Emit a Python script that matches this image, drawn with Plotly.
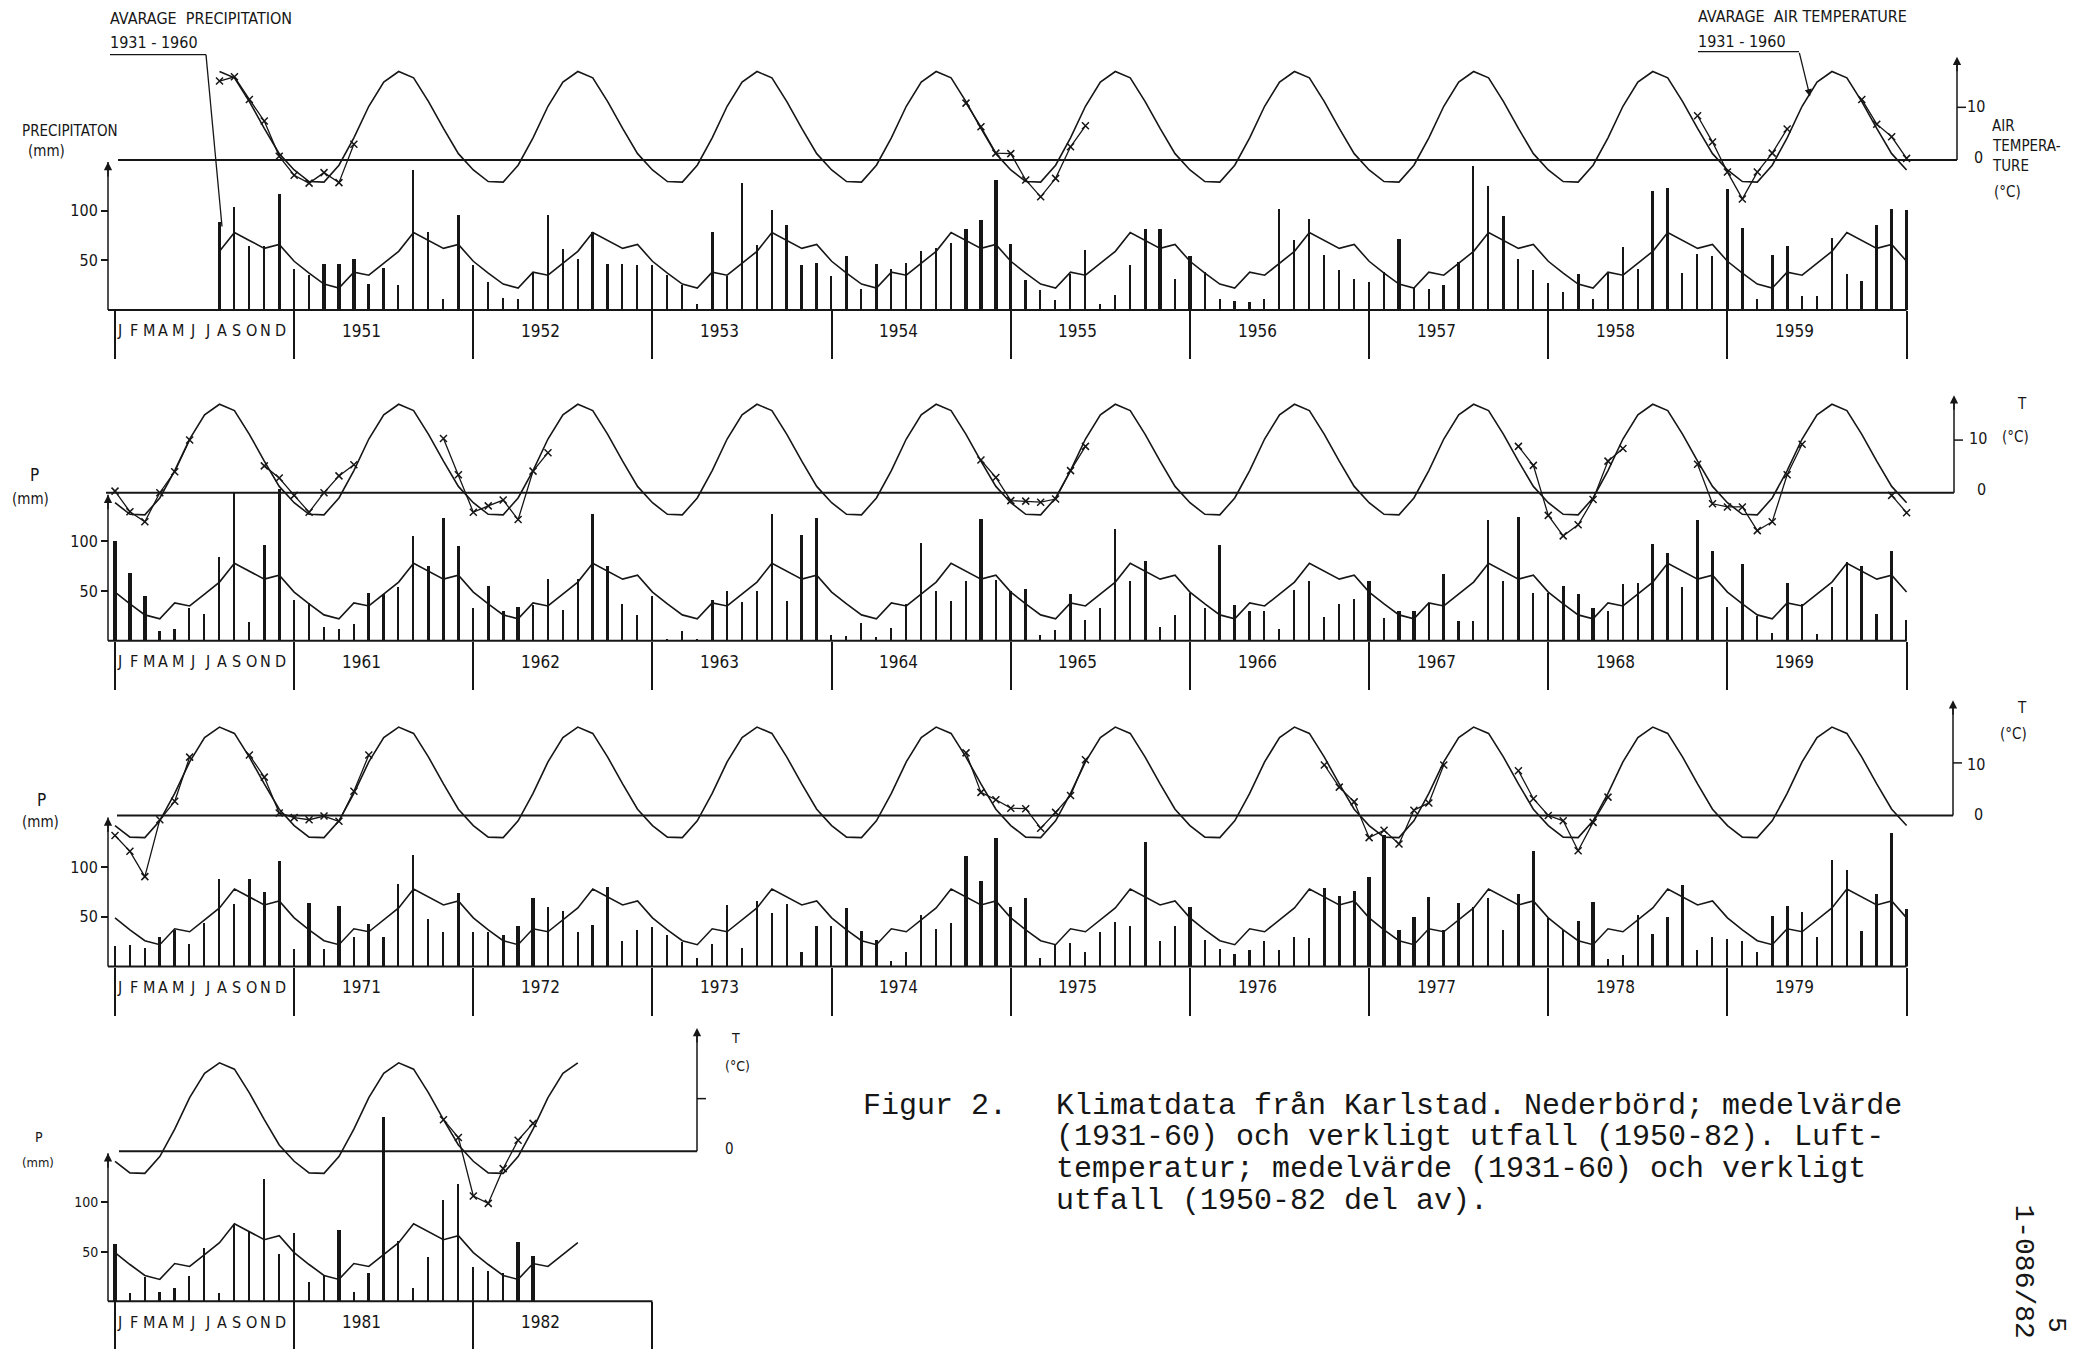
import plotly.graph_objects as go

W, H = 2086, 1357
N = None

MONTH_LETTERS = ["J", "F", "M", "A", "M", "J", "J", "A", "S", "O", "N", "D"]

# 1931-60 normals, Jan..Dec
P_NORMAL = [37, 26, 22, 38, 35, 47, 59, 78, 70, 62, 66, 49]
T_NORMAL = [-4.1, -4.2, -1.0, 4.2, 10.2, 14.8, 16.8, 15.6, 11.1, 6.0, 1.2, -1.9]

# monthly precipitation (mm), Jan..Dec
p1950 = [N, N, N, N, N, N, 88, 103, 64, 64, 116, 41]
p1951 = [35, 46, 46, 51, 26, 42, 25, 141, 78, 11, 95, 45]
p1952 = [28, 12, 11, 38, 95, 61, 51, 78, 46, 46, 45, 45]
p1953 = [35, 25, 6, 78, 34, 128, 65, 100, 85, 45, 47, 34]
p1954 = [54, 21, 46, 41, 47, 59, 62, 67, 81, 90, 131, 66]
p1955 = [30, 20, 10, 36, 60, 6, 15, 45, 81, 81, 31, 54]
p1956 = [38, 11, 9, 8, 11, 101, 70, 91, 55, 40, 31, 28]
p1957 = [38, 71, 22, 21, 25, 48, 145, 125, 94, 51, 40, 27]
p1958 = [18, 36, 11, 38, 63, 41, 119, 122, 37, 56, 54, 121]
p1959 = [82, 11, 55, 64, 14, 14, 72, 36, 29, 85, 101, 100]
p1960 = [68, 45, 10, 12, 33, 27, 84, 150, 19, 96, 153, 41]
p1961 = [38, 14, 12, 17, 48, 47, 54, 105, 75, 123, 95, 33]
p1962 = [55, 30, 34, 36, 62, 31, 62, 128, 75, 37, 26, 45]
p1963 = [2, 10, 2, 41, 50, 39, 50, 128, 40, 106, 123, 6]
p1964 = [5, 18, 4, 13, 37, 98, 50, 40, 60, 122, 61, 50]
p1965 = [52, 6, 11, 47, 21, 33, 112, 60, 80, 14, 26, 48]
p1966 = [33, 96, 36, 30, 30, 12, 51, 60, 24, 37, 42, 60]
p1967 = [23, 30, 30, 38, 67, 20, 20, 121, 60, 125, 48, 48]
p1968 = [55, 47, 33, 30, 57, 58, 97, 88, 54, 121, 90, 34]
p1969 = [77, 25, 8, 58, 37, 7, 54, 79, 75, 27, 90, 21]
p1970 = [22, 19, 30, 37, 23, 44, 88, 63, 88, 75, 106, 18]
p1971 = [64, 18, 61, 30, 43, 30, 83, 112, 48, 35, 74, 35]
p1972 = [35, 32, 41, 69, 60, 56, 35, 42, 80, 26, 37, 40]
p1973 = [32, 25, 9, 23, 62, 19, 66, 54, 63, 15, 41, 41]
p1974 = [59, 36, 27, 6, 15, 52, 38, 44, 111, 86, 130, 60]
p1975 = [69, 9, 22, 24, 15, 35, 45, 41, 126, 26, 41, 60]
p1976 = [27, 18, 13, 17, 26, 17, 30, 29, 79, 71, 76, 90]
p1977 = [133, 37, 50, 70, 37, 64, 60, 69, 37, 73, 116, 49]
p1978 = [37, 46, 65, 8, 12, 52, 33, 50, 82, 17, 30, 28]
p1979 = [26, 15, 51, 61, 55, 30, 107, 97, 36, 73, 135, 58]
p1980 = [9, 25, 10, 14, 26, 54, 9, 78, 71, 123, 48, 69]
p1981 = [20, 27, 72, 10, 29, 186, 61, 14, 45, 102, 118, 35]
p1982 = [31, 29, 60, 46, N, N, N, N, N, N, N, N]

# months whose precipitation bar is drawn heavy in the original
MARKED = [
    "1950-07", "1950-11", "1951-02", "1951-03", "1951-04", "1951-11",
    "1953-04", "1953-09", "1954-01", "1954-03", "1954-09", "1954-10", "1954-11", "1954-12",
    "1955-09", "1955-10", "1955-12", "1957-02", "1957-09", "1958-02", "1958-12",
    "1959-01", "1959-03", "1959-04", "1959-10", "1959-11", "1959-12",
    "1960-01", "1960-02", "1960-10", "1960-11", "1961-09", "1961-10", "1961-11",
    "1962-01", "1962-02", "1962-03", "1962-09", "1963-04", "1963-10", "1963-11",
    "1964-10", "1965-01", "1965-04", "1965-09", "1966-02", "1966-12",
    "1967-02", "1967-03", "1967-10", "1968-01", "1968-02", "1968-03", "1968-10", "1968-11",
    "1969-01", "1969-04", "1969-09", "1969-11",
    "1970-09", "1970-10", "1970-11", "1971-01", "1971-03", "1971-11",
    "1972-02", "1972-03", "1972-04", "1972-09", "1974-01", "1974-02", "1974-03",
    "1974-09", "1974-10", "1974-11", "1974-12", "1975-01", "1975-09", "1975-12",
    "1976-09", "1976-10", "1976-11", "1976-12", "1977-01", "1977-02", "1977-03", "1977-04",
    "1977-10", "1977-11", "1978-02", "1978-03", "1978-09",
    "1979-03", "1979-04", "1979-10", "1979-11", "1979-12",
    "1981-03", "1982-03", "1982-04",
]

# observed monthly air temperature (degC), only the plotted periods
t1950 = [N, N, N, N, N, N, 15.0, 15.8, 11.5, 7.4, 0.7, -2.9]
t1951 = [-4.4, -2.4, -4.3, 3.0, N, N, N, N, N, N, N, N]
t1954 = [N, N, N, N, N, N, N, N, 10.8, 6.3, 1.3, 1.2]
t1955 = [-3.8, -7.0, -3.5, 2.5, 6.5, N, N, N, N, N, N, N]
t1958 = [N, N, N, N, N, N, N, N, N, 8.4, 3.4, -2.3]
t1959 = [-7.4, -2.3, 1.3, 5.9, N, N, N, N, 11.5, 6.8, 4.4, 0.3]
t1960 = [-3.6, -5.5, 0.0, 4.0, 10.0, N, N, N, N, 5.1, 2.8, -0.5]
t1961 = [-3.7, 0.0, 3.2, 5.3, N, N, N, N, N, 10.3, 3.4, -3.7]
t1962 = [-2.5, -1.4, -5.1, 4.1, 7.6, N, N, N, N, N, N, N]
t1964 = [N, N, N, N, N, N, N, N, N, 6.2, 2.9, -1.5]
t1965 = [-1.6, -1.8, -1.2, 4.2, 8.8, N, N, N, N, N, N, N]
t1967 = [N, N, N, N, N, N, N, N, N, 8.8, 5.2, -4.3]
t1968 = [-8.2, -6.1, -1.3, 6.0, 8.4, N, N, N, N, 5.4, -2.1, -2.7]
t1969 = [-2.7, -7.2, -5.5, 3.4, 9.2, N, N, N, N, N, -0.5, -3.8]
t1970 = [-6.8, -11.6, -0.8, 2.7, 11.1, N, N, N, 11.5, 7.3, 0.5, -0.4]
t1971 = [-0.8, -0.1, -1.1, 4.6, 11.5, N, N, N, N, N, N, N]
t1974 = [N, N, N, N, N, N, N, N, 11.9, 4.4, 3.0, 1.4]
t1975 = [1.3, -2.4, 0.6, 3.8, 10.6, N, N, N, N, N, N, N]
t1976 = [N, N, N, N, N, N, N, N, 9.6, 5.4, 2.6, -4.2]
t1977 = [-2.8, -5.4, 1.0, 2.4, 9.6, N, N, N, N, 8.5, 3.2, 0.0]
t1978 = [-1.0, -6.7, -1.3, 3.5, N, N, N, N, N, N, N, N]
t1981 = [N, N, N, N, N, N, N, N, N, 6.0, 2.6, -8.5]
t1982 = [-9.9, -3.3, 2.1, 5.3, N, N, N, N, N, N, N, N]

PRECIP = {1950: p1950, 1951: p1951, 1952: p1952, 1953: p1953, 1954: p1954,
          1955: p1955, 1956: p1956, 1957: p1957, 1958: p1958, 1959: p1959,
          1960: p1960, 1961: p1961, 1962: p1962, 1963: p1963, 1964: p1964,
          1965: p1965, 1966: p1966, 1967: p1967, 1968: p1968, 1969: p1969,
          1970: p1970, 1971: p1971, 1972: p1972, 1973: p1973, 1974: p1974,
          1975: p1975, 1976: p1976, 1977: p1977, 1978: p1978, 1979: p1979,
          1980: p1980, 1981: p1981, 1982: p1982}
TEMP = {1950: t1950, 1951: t1951, 1954: t1954, 1955: t1955, 1958: t1958,
        1959: t1959, 1960: t1960, 1961: t1961, 1962: t1962, 1964: t1964,
        1965: t1965, 1967: t1967, 1968: t1968, 1969: t1969, 1970: t1970,
        1971: t1971, 1974: t1974, 1975: t1975, 1976: t1976, 1977: t1977,
        1978: t1978, 1981: t1981, 1982: t1982}

# panel rows: first year, number of years, span of the normal curves (year, month)
ROW_FIRST_YEAR = [1950, 1960, 1970, 1980]
ROW_N_YEARS = [10, 10, 10, 3]
NORMAL_START = [(1950, 7), (1959, 12), (1969, 12), (1979, 12)]
NORMAL_END = [(1959, 12), (1969, 12), (1979, 12), (1982, 7)]

CAPTION = [
    "Klimatdata från Karlstad. Nederbörd; medelvärde",
    "(1931-60) och verkligt utfall (1950-82). Luft-",
    "temperatur; medelvärde (1931-60) och verkligt",
    "utfall (1950-82 del av).",
]

# ---------------- layout geometry (screen pixels) ----------------
OFF = 8                       # default page margin around the plot div
FW, FH = W - 2 * OFF, H - 2 * OFF
X0, DX = 115.0, 14.93
PMM, PDEG = 1.0, 5.3
ROW_P0 = [312, 645, 973, 1310]
ROW_T0 = [161, 496, 821, 1159]
ROW_TAX = [1957, 1954, 1953, 697]
ROW_TTOP = [19.6, 18.5, 21.9, 23.4]
ROW_ZSTART = [118, 106, 117, 119]
PAX = 108

INK = "#161616"
LBL = "Liberation Sans Narrow, DejaVu Sans Condensed, Roboto, Arial, sans-serif"
MONO = "Liberation Mono, DejaVu Sans Mono, monospace"


def fx(px):
    return (px - OFF) / FW


def fy(py):
    return 1 - (py - OFF) / FH


def xi(px):
    return (px - X0) / DX


fig = go.Figure()
layout = {}
shapes = []
annotations = []


def line(x0, y0, x1, y1, w=1.5):
    shapes.append(dict(type="line", xref="paper", yref="paper",
                       x0=fx(x0), y0=fy(y0), x1=fx(x1), y1=fy(y1),
                       line=dict(color=INK, width=w)))


def text(t, x, y, size=16, anchor="center", family=LBL, angle=0):
    annotations.append(dict(text=t, x=fx(x), y=fy(y), xref="paper", yref="paper",
                            showarrow=False, xanchor=anchor, yanchor="middle",
                            textangle=angle, font=dict(family=family, size=size, color=INK)))


def arrow_up(x, y, length=18):
    annotations.append(dict(text="", x=fx(x), y=fy(y), xref="paper", yref="paper",
                            showarrow=True, arrowhead=2, arrowsize=1.1, arrowwidth=1.5,
                            arrowcolor=INK, ax=0, ay=length, standoff=0))


for r in range(4):
    y0 = ROW_FIRST_YEAR[r]
    n = ROW_N_YEARS[r]
    p0, t0 = ROW_P0[r], ROW_T0[r]
    xname = "xaxis" if r == 0 else f"xaxis{r + 1}"
    xref = "x" if r == 0 else f"x{r + 1}"
    kp, kt = 2 * r + 1, 2 * r + 2
    ypname = "yaxis" if kp == 1 else f"yaxis{kp}"
    ypref = "y" if kp == 1 else f"y{kp}"
    ytname, ytref = f"yaxis{kt}", f"y{kt}"

    layout[xname] = dict(domain=[0, 1], range=[xi(OFF), xi(W - OFF)], anchor=ypref,
                         showgrid=False, zeroline=False, showline=False,
                         ticks="outside", tickmode="array",
                         tickvals=[12 * k for k in range(n + 1)],
                         ticklen=48, tickwidth=1.5, tickcolor=INK,
                         showticklabels=False, fixedrange=True)
    layout[ypname] = dict(domain=[fy(p0), fy(p0 - 200 * PMM)], range=[0, 200],
                          anchor="free", position=fx(PAX), side="left",
                          tickmode="array", tickvals=[50, 100], ticks="outside",
                          ticklen=7, tickwidth=1.5, tickcolor=INK,
                          showgrid=False, zeroline=False, showline=False,
                          tickfont=dict(family=LBL, size=16 if r < 3 else 14, color=INK),
                          fixedrange=True)
    layout[ytname] = dict(domain=[fy(t0 + 16 * PDEG), fy(t0 - 25 * PDEG)],
                          range=[-16, 25], anchor=xref, visible=False, fixedrange=True)

    s_idx = (NORMAL_START[r][0] - y0) * 12 + NORMAL_START[r][1]
    e_idx = (NORMAL_END[r][0] - y0) * 12 + NORMAL_END[r][1]

    xs, pv, widths, pn, tn, tv = [], [], [], [], [], []
    for i in range(0, 12 * n + 1):
        yr = y0 + (i - 1) // 12
        m = (i - 1) % 12
        xs.append(i)
        pvals = PRECIP.get(yr)
        pv.append(pvals[m] if pvals else None)
        widths.append(0.22 if f"{yr}-{m + 1:02d}" in MARKED else 0.11)
        tvals = TEMP.get(yr)
        tv.append(tvals[m] if tvals else None)
        inside = s_idx <= i <= e_idx
        pn.append(P_NORMAL[m] if inside else None)
        tn.append(T_NORMAL[m] if inside else None)

    fig.add_trace(go.Bar(x=xs, y=pv, width=widths, xaxis=xref, yaxis=ypref,
                         marker=dict(color=INK, line=dict(width=0)),
                         showlegend=False, hoverinfo="skip"))
    fig.add_trace(go.Scatter(x=xs, y=pn, xaxis=xref, yaxis=ypref, mode="lines",
                             line=dict(color=INK, width=1.6), connectgaps=False,
                             showlegend=False, hoverinfo="skip"))
    fig.add_trace(go.Scatter(x=xs, y=tn, xaxis=xref, yaxis=ytref, mode="lines",
                             line=dict(color=INK, width=1.6), connectgaps=False,
                             showlegend=False, hoverinfo="skip"))
    fig.add_trace(go.Scatter(x=xs, y=tv, xaxis=xref, yaxis=ytref, mode="lines+markers",
                             line=dict(color=INK, width=1.3), connectgaps=False,
                             marker=dict(symbol="x-thin", size=7, color=INK,
                                         line=dict(width=1.5, color=INK)),
                             showlegend=False, hoverinfo="skip"))

    # axes drawn as in the original
    x_end = X0 + DX * 12 * n
    line(PAX, p0, x_end, p0, 2)
    line(PAX, p0, PAX, t0 + 2, 1.5)
    arrow_up(PAX, t0 + 2, 16)
    tax = ROW_TAX[r]
    line(ROW_ZSTART[r], t0, tax, t0, 2)
    ttop = t0 - ROW_TTOP[r] * PDEG
    line(tax, t0, tax, ttop + 6, 1.5)
    arrow_up(tax, ttop, 16)
    line(tax, t0 - 10 * PDEG, tax + 9, t0 - 10 * PDEG, 1.5)

    # year labels and month letters
    ylab = p0 + 21
    for k in range(n):
        if k == 0:
            for j, letter in enumerate(MONTH_LETTERS):
                annotations.append(dict(text=letter, x=0.3 + 0.98 * j, y=fy(ylab),
                                        xref=xref, yref="paper", showarrow=False,
                                        xanchor="center", yanchor="middle",
                                        font=dict(family=LBL, size=16, color=INK)))
        else:
            annotations.append(dict(text=str(y0 + k), x=12 * k + 4.5, y=fy(ylab),
                                    xref=xref, yref="paper", showarrow=False,
                                    xanchor="center", yanchor="middle",
                                    font=dict(family=LBL, size=17, color=INK)))

# ---------------- texts ----------------
text("AVARAGE  PRECIPITATION", 108, 19, 16, "left")
text("1931 - 1960", 108, 43, 16, "left")
line(110, 55, 206, 55, 1.3)
line(206, 55, 222, 228, 1.3)

text("AVARAGE  AIR TEMPERATURE", 1696, 17, 16, "left")
text("1931 - 1960", 1696, 42, 16, "left")
line(1698, 52, 1799, 52, 1.3)
annotations.append(dict(text="", x=fx(1810), y=fy(97), xref="paper", yref="paper",
                        showarrow=True, arrowhead=2, arrowsize=1.1, arrowwidth=1.3,
                        arrowcolor=INK, ax=-11, ay=-45, standoff=0))

text("PRECIPITATON", 70, 132, 15)
text("(mm)", 46, 152, 15)
text("10", 1965, 107, 16, "left")
text("AIR", 1990, 127, 15, "left")
text("TEMPERA-", 1990, 147, 15, "left")
text("0", 1972, 159, 16, "left")
text("TURE", 1990, 167, 15, "left")
text("(°C)", 1992, 193, 15, "left")

text("P", 34, 478, 17)
text("(mm)", 30, 502, 15)
text("T", 2022, 407, 15)
text("10", 1967, 441, 16, "left")
text("(°C)", 2000, 440, 15, "left")
text("0", 1975, 493, 16, "left")

text("P", 41, 805, 17)
text("(mm)", 40, 828, 15)
text("T", 2022, 713, 15)
text("(°C)", 1998, 739, 15, "left")
text("10", 1965, 770, 16, "left")
text("0", 1972, 820, 16, "left")

text("P", 39, 1145, 14)
text("(mm)", 38, 1170, 13)
text("T", 735, 1045, 14)
text("(°C)", 723, 1073, 14, "left")
text("0", 723, 1157, 15, "left")

text("Figur 2.", 861, 1113, 30, "left", MONO)
for j, cap_line in enumerate(CAPTION):
    text(cap_line, 1054, 1113 + 32 * j, 30, "left", MONO)
text("1-086/82", 2024, 1280, 28, "center", MONO, 90)
text("5", 2056, 1334, 26, "center", MONO, 90)

fig.update_layout(
    width=FW, height=FH,
    margin=dict(l=0, r=0, t=0, b=0),
    paper_bgcolor="white", plot_bgcolor="rgba(0,0,0,0)",
    showlegend=False, bargap=0,
    shapes=shapes, annotations=annotations,
    **layout,
)
fig.write_html("out.html")
